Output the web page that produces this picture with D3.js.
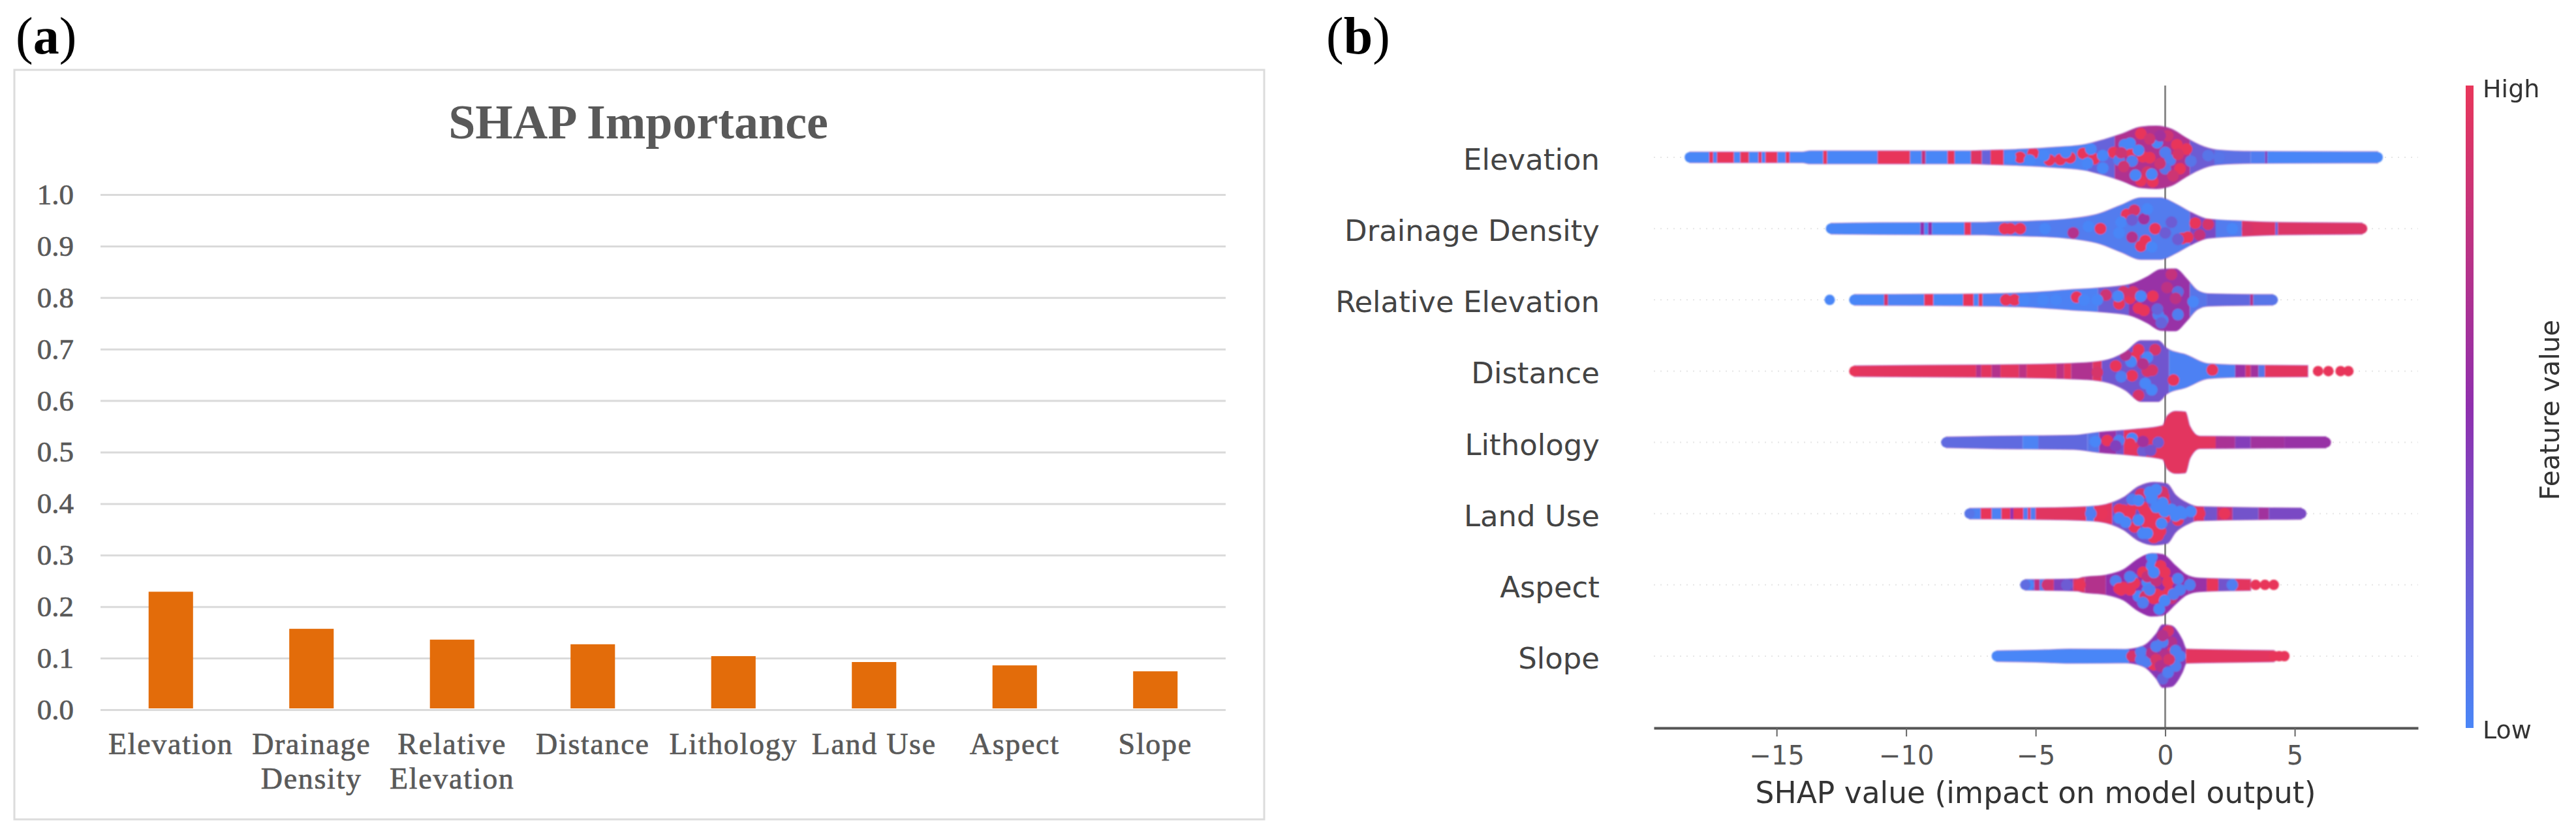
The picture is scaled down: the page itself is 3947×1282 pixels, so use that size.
<!DOCTYPE html>
<html>
<head>
<meta charset="utf-8">
<title>SHAP importance and summary</title>
<script src="https://cdn.jsdelivr.net/npm/d3@7/dist/d3.min.js"></script>
<style>
  html, body { margin: 0; padding: 0; background: #fff; }
  svg { display: block; }
  .serif { font-family: "Liberation Serif", serif; }
  .sans { font-family: "DejaVu Sans", sans-serif; }
</style>
</head>
<body>
<svg id="canvas" width="3947" height="1282"></svg>
<script>
// ---- data, panel (a)
var features = ['Elevation','Drainage Density','Relative Elevation','Distance','Lithology','Land Use','Aspect','Slope'];
var importance = [0.229,0.157,0.136,0.127,0.104,0.0925,0.086,0.0745];
var importanceTicks = [0,0.1,0.2,0.3,0.4,0.5,0.6,0.7,0.8,0.9,1.0];
var wrappedLabels = [['Elevation'],['Drainage','Density'],['Relative','Elevation'],['Distance'],['Lithology'],['Land Use'],['Aspect'],['Slope']];

// ---- data, panel (b)
var shapTicks = [-15,-10,-5,0,5];

// swarm outline per feature: [shap value, half thickness 0..1]
var elevationBand = [[-18.35,.14],[-14,.14],[-13.7,.18],[-7.5,.18],[-6.74,.2],[-5.65,.23],[-4.2,.3],[-3.1,.39],[-2.37,.55],[-1.7,.73],[-.94,.97],[-.35,1],[.24,.9],[.82,.6],[1.33,.37],[2,.21],[3.34,.16],[8.2,.15]];
var drainageBand = [[-12.9,.14],[-11,.16],[-7,.17],[-6.74,.18],[-5.3,.21],[-3.8,.28],[-2.54,.46],[-1.7,.74],[-.94,.98],[-.18,.98],[.4,.78],[1,.5],[1.66,.28],[3.1,.21],[4.5,.17],[7.6,.15]];
var relativeBand = [[-12,.14],[-9,.15],[-6.74,.17],[-5.14,.21],[-3.63,.3],[-2.37,.37],[-1.36,.48],[-.69,.73],[-.18,.97],[.4,.99],[.82,.67],[1.24,.28],[1.66,.17],[4.15,.14]];
var distanceBand = [[-12,.14],[-9,.16],[-6.74,.17],[-3.7,.22],[-2.8,.26],[-2,.4],[-1.53,.6],[-.94,.97],[-.27,.97],[.07,.71],[.82,.5],[1.66,.21],[3.34,.16],[5.5,.15]];
var lithologyBand = [[-8.45,.14],[-6.74,.17],[-3.55,.2],[-2.54,.3],[-1.28,.39],[-.1,.52],[.07,.83],[.4,.99],[.78,.97],[.95,.5],[1.33,.17],[6.2,.15]];
var landUseBand = [[-7.55,.14],[-4.5,.16],[-2.96,.2],[-2.29,.27],[-1.61,.5],[-1.03,.86],[-.44,1],[.07,.95],[.4,.58],[.82,.33],[1.24,.2],[5.25,.15]];
var aspectBand = [[-5.4,.14],[-3.38,.17],[-3.2,.21],[-2.29,.29],[-1.61,.47],[-1.03,.83],[-.52,1],[-.1,.97],[.4,.6],[.82,.3],[1.33,.19],[3.3,.15]];
var slopeBand = [[-6.5,.14],[-4.64,.17],[-3.71,.2],[-1.53,.19],[-.86,.3],[-.35,.7],[-.1,1],[.24,.97],[.66,.5],[.82,.2],[2,.18],[4.2,.15]];

// colour runs along each swarm: [from shap, to shap, feature value 0..1]
var elevationRuns = [[-18.6,-17.6,0],[-17.6,-17.45,1],[-17.45,-17.3,0],[-17.3,-16.65,1],[-16.65,-16.4,0],[-16.4,-16.07,1],[-16.07,-15.7,0],[-15.7,-15.58,1],[-15.58,-15.43,0],[-15.43,-14.97,1],[-14.97,-14.65,0],[-14.65,-14.5,1],[-14.5,-13.2,0],[-13.2,-13.05,1],[-13.05,-11.1,0],[-11.1,-9.85,1],[-9.85,-9.4,0],[-9.4,-9.25,.8],[-9.25,-8.4,0],[-8.4,-8.13,1],[-8.13,-7.5,0],[-7.5,-7.08,.95],[-7.08,-6.74,.2],[-6.74,-6.24,1],[-6.24,-3,.03],[-3,-1.95,.2],[-1.95,.95,.68],[.95,1.9,.25],[1.9,3.3,.12],[3.3,3.85,.05],[3.85,3.95,.4],[3.95,8.7,0]];
var drainageRuns = [[-13.2,-9.45,0],[-9.45,-9.3,.5],[-9.3,-9.15,0],[-9.15,-9,.5],[-9,-7.75,0],[-7.75,-7.5,1],[-7.5,.95,.06],[.95,1.95,.35],[1.95,2.96,.06],[2.96,4.25,.93],[4.25,4.35,.2],[4.35,7.9,.93]];
var relativeRuns = [[-12.2,-10.85,0],[-10.85,-10.7,.9],[-10.7,-9.3,.02],[-9.3,-8.95,1],[-8.95,-7.8,0],[-7.8,-7.4,1],[-7.4,-7.2,0],[-7.2,-7.05,1],[-7.05,-2.6,.03],[-2.6,-1.4,.25],[-1.4,.95,.55],[.95,1.6,.1],[1.6,3.28,.17],[3.28,3.4,.7],[3.4,4.4,.1]];
var distanceRuns = [[-12.2,-7.3,.97],[-7.3,-7.1,.7],[-7.1,-6.7,.97],[-6.7,-6.36,.7],[-6.36,-5.65,.97],[-5.65,-5.35,.75],[-5.35,-4.2,.97],[-4.2,-3.9,.75],[-3.9,-3.63,.97],[-3.63,-2.8,.68],[-2.8,-2.45,.95],[-2.45,.15,.28],[.15,2.7,.03],[2.7,3.1,.55],[3.1,3.3,.9],[3.3,3.6,.6],[3.6,3.85,.1],[3.85,5.7,.97]];
var lithologyRuns = [[-8.8,-5.5,.16],[-5.5,-4.9,.02],[-4.9,-3,.17],[-3,-2.55,.1],[-2.55,-1.9,.55],[-1.9,-1.6,.3],[-1.6,1.95,.97],[1.95,2.7,.65],[2.7,3.3,.42],[3.3,4.6,.6],[4.6,6.4,.55]];
var landUseRuns = [[-7.8,-7.12,.03],[-7.12,-6.7,1],[-6.7,-6.32,.03],[-6.32,-5.98,1],[-5.98,-5.86,.5],[-5.86,-5.48,1],[-5.48,-5.3,.05],[-5.3,-5.2,1],[-5.2,-5,.05],[-5,-3.05,.96],[-3.05,-2.75,.05],[-2.75,-2.05,.97],[-2.05,1.1,.3],[1.1,1.5,.9],[1.5,2,.3],[2,2.6,.8],[2.6,3.6,.3],[3.6,4,.6],[4,5.5,.35]];
var aspectRuns = [[-5.7,-5.05,.15],[-5.05,-4.85,.75],[-4.85,-4.65,.05],[-4.65,-4.3,.9],[-4.3,-3.55,.4],[-3.55,-3.1,.9],[-3.1,-2.3,.7],[-2.3,.9,.52],[.9,1.6,.55],[1.6,2.05,.95],[2.05,2.7,.3],[2.7,3.3,.97]];
var slopeRuns = [[-6.8,-1.4,0],[-1.4,.8,.45],[.8,4.3,.97]];

// individual dots that can be told apart: [shap, offset -1..1, feature value]
var elevationDots = [[-6.49,0,1],[-5.6,0,1],[-5.1,-.13,1],[-4.47,.09,1],[-4.05,.07,1],[-3.67,.01,1],[-3.17,-.13,1],[-2.75,.05,1],[-1.99,-.16,1],[-1.32,-.18,1],[-.86,-.02,1],[-.6,.01,1],[-.94,-.77,1],[.45,-.41,1],[.82,-.27,1],[.57,.37,1],[-.48,.79,1],[-.94,.76,1],[-.69,.48,.9],
  [-5.98,0,0],[-5.23,.09,0],[-4.68,-.06,0],[-3.84,-.16,0],[-2.87,-.27,0],[-2.41,-.06,0],[-3,.19,0],[-2.41,.35,0],[-1.57,-.41,0],[-1.36,-.46,0],[-1.03,-.23,0],[-1.78,.09,.05],[-1.28,.12,.05],[-1.15,.58,0],[-.31,-.48,0],[0,-.16,.05],[.19,.09,.05],[0,.37,.1],[-.52,.55,0],[.99,.12,.1],[1.66,-.06,.1],[2.08,0,.1],
  [-.2,.2,.85],[.1,-.7,.85],[-1.6,.3,.85],[.3,.6,.85],[.5,-.1,.9],[-.2,-.7,.6],[-.6,-.6,.85],[-1.7,-.15,.85]];
var drainageDots = [[-6.2,0,1],[-5.98,0,1],[-5.6,0,1],[-3.55,.14,.7],[-2.5,0,1],[-1.49,-.46,1],[-1.19,-.6,.9],[-.39,0,1],[-.94,.57,1],[-.77,.39,1],[1.16,-.18,1],[.87,.28,1],[.66,.32,1],[1.66,-.14,.9],[3.18,0,.9],[-1.28,.28,.7],[-.82,-.32,.6],[1.33,.21,.8],
  [-1.7,-.21,0],[-.52,.6,0],[-1.78,.14,0],[-.69,-.64,0],[2.59,0,0],[-2.96,-.07,0],[-4.64,0,0],[0,.14,.25],[.24,-.21,.25],[.49,.35,.25],[-1.28,-.28,.25]];
var relativeDots = [[-6.15,0,1],[-5.82,0,1],[-3.42,-.09,1],[-2.29,-.16,.85],[-1.78,.13,1],[-1.36,-.05,1],[-1.03,.27,1],[-.82,.34,1],[-.48,-.12,1],[.24,-.83,.8],[-1.24,-.26,.9],[-1.61,-.26,.9],
  [-5.44,0,0],[-4.72,0,0],[-4.22,0,0],[-3.13,0,0],[-2.62,0,0],[-1.82,-.12,0],[-.94,-.12,0],[-.27,.48,.05],[-.1,.66,.05],[.49,.48,.05],[1.08,.06,0],[.49,-.26,.15],[.07,-.4,.75],[.4,-.05,.75],[-.3,.3,.2],[-.15,.75,.2]];
var distanceDots = [[1.82,-.04,1],[-1.03,-.7,1],[-1.19,-.45,1],[-1.91,-.17,1],[-1.28,.15,1],[-.69,0,.9],[-.5,-.03,.9],[.32,.29,1],[-1.03,.79,.9],[-.39,-.7,.9],[-2.62,.04,.9],
  [-1.32,-.31,0],[-.69,-.45,0],[-.77,.4,0],[-1.7,.18,.05],[-.52,.61,0],[-1.53,-.52,.7],[-.86,-.24,.7]];
var lithologyDots = [[-2.7,-.03,0],[-1.28,-.13,0],[-1.78,-.06,.05],[-.86,.29,.25],[-.27,0,.25],[-.56,.26,.3],[-2.24,-.06,1],[-1.36,.04,1],[-.86,-.03,.6],[-1.91,.11,.4]];
var landUseDots = [[-2.45,0,1],[-1.61,-.11,1],[-1.36,-.07,1],[-1.24,-.28,1],[-.77,-.07,1],[-.73,.28,1],[-.06,-.57,1],[-.35,.14,1],[-.18,.57,1],[-.44,.78,1],[1.33,0,1],[2.29,0,1],[.49,.21,1],[-.02,-.35,.9],[-1.19,.43,1],
  [-1.78,-.14,1],[-1.45,.07,1],[-.69,0,1],[-.86,-.21,1],[-.52,.43,1],[-.27,.71,1],[-.1,-.7,.9],[-.02,.14,1],[-.94,-.64,.9],
  [-1.78,.14,0],[-1.28,-.46,.05],[-1.53,.28,0],[-.86,.64,0],[-1.03,.21,0],[-.52,-.5,0],[-.35,-.78,0],[-.35,-.21,0],[-.02,-.07,0],[.66,0,0],[.99,-.07,0],[-.14,.32,0],[-2.87,0,.05],
  [-.69,.64,0],[-.1,-.35,0],[.24,-.14,0],[.57,-.07,0],[.4,.07,0],[-1.03,-.43,0],[-.6,-.7,0]];
var aspectDots = [[-5.29,0,0],[-4.55,0,.85],[-3.8,0,.25],[-3.29,0,1],[-1.91,-.13,.05],[-1.78,.12,1],[-1.61,.09,1],[-1.28,-.2,0],[-1.03,.37,0],[-.86,-.41,1],[-.52,-.62,0],[-.69,-.09,0],[-.69,.19,0],[-.23,.79,0],[-.18,-.62,1],[.11,-.09,1],[.15,.23,1],[.49,-.2,.05],[-.35,.3,1],[.95,0,.05],[1.83,0,1],[2.59,0,.05],[-1.36,.16,1],[-.35,-.13,.8],
  [-1.7,.16,1],[-1.19,-.06,1],[-.77,.37,.9],[-.44,.44,1],[-.1,.37,1],[-.02,-.41,1],[-.69,-.27,.8],[.24,.44,.8],
  [-.44,-.41,0],[-.52,-.91,0],[-.86,.58,.05],[-.02,.51,0],[.32,.3,.05],[.57,.16,.05],[-1.36,-.27,.05],[-.6,.16,.05]];
var slopeDots = [[-1.28,0,.9],[-.94,-.14,.05],[-.44,.28,1],[.28,-.14,1],[.11,-.82,.9],[.24,-.46,.7],[.57,0,.05],[.4,.32,.05],[-.1,.74,.2],[-.73,.18,.05],[-.1,-.46,.05],[-.52,-.1,.7],[-.02,-.04,.7],
  [-.94,.11,.05],[-.35,-.32,.05],[-.35,.11,.9],[-.18,.32,.7],[.4,-.18,.05],[.15,.11,.9],[-.1,-.67,.7],[.11,.53,.05]];

// loose dots at the swarm ends, not inside the outline: [shap, feature value]
var elevationEnds = [[-18.35,0],[-18.05,0],[-17.8,0],[7.9,0],[8.2,0]];
var drainageEnds = [[-12.9,0],[-12.6,0],[-12.3,0],[-12,0],[7.6,.93]];
var relativeEnds = [[-12.95,0],[-12,0],[-11.7,0],[4.15,.1]];
var distanceEnds = [[-12,1],[5.9,1],[6.3,1],[6.77,1],[7.07,1]];
var lithologyEnds = [[-8.45,.16],[6.2,.55]];
var landUseEnds = [[-7.55,.1],[5.25,.35]];
var aspectEnds = [[-5.4,.15],[3.49,1],[3.85,1],[4.19,1]];
var slopeEnds = [[-6.5,0],[4.2,1],[4.4,1],[4.6,1]];

var swarmBands = [elevationBand,drainageBand,relativeBand,distanceBand,lithologyBand,landUseBand,aspectBand,slopeBand];
var swarmRuns = [elevationRuns,drainageRuns,relativeRuns,distanceRuns,lithologyRuns,landUseRuns,aspectRuns,slopeRuns];
var swarmDots = [elevationDots,drainageDots,relativeDots,distanceDots,lithologyDots,landUseDots,aspectDots,slopeDots];
var swarmEnds = [elevationEnds,drainageEnds,relativeEnds,distanceEnds,lithologyEnds,landUseEnds,aspectEnds,slopeEnds];

var svg = d3.select('#canvas');

// soft edges, the source is a resampled raster
var defs = svg.append('defs');
defs.append('filter').attr('id','soft')
    .append('feGaussianBlur').attr('stdDeviation',0.9);

//------------- panel (a)
svg.append('text').attr('class','serif')
    .attr('x',24).attr('y',82).attr('font-size',80).attr('fill','#000')
    .html('(<tspan font-weight="bold">a</tspan>)');

svg.append('rect')
    .attr('x',22).attr('y',107)
    .attr('width',1915).attr('height',1148)
    .attr('fill','#fff').attr('stroke','#dcdcdc').attr('stroke-width',3);

svg.append('text').attr('class','serif')
    .attr('x',978).attr('y',212)
    .attr('text-anchor','middle')
    .attr('font-size',74).attr('font-weight','bold').attr('fill','#595959')
    .text('SHAP Importance');

var scaleBand = d3.scaleBand().domain(features).range([154,1878]).paddingInner(0.684).paddingOuter(0.342);
var scaleImp = d3.scaleLinear().domain([0,1]).range([1087,298]);

var axisImp = d3.axisLeft(scaleImp)
    .tickValues(importanceTicks)
    .tickFormat(d3.format('.1f'))
    .tickSize(-(1878-154))
    .tickPadding(41);

var axisImpNode = svg.append('g')
    .attr('transform','translate(154,0)')
    .call(axisImp);
axisImpNode.select('.domain').remove();
axisImpNode.selectAll('line').attr('stroke','#dadada').attr('stroke-width',3);
axisImpNode.selectAll('text')
    .attr('class','serif')
    .attr('font-size',45)
    .attr('fill','#595959')
    .attr('stroke','#595959').attr('stroke-width',0.7);

svg.append('g').selectAll('rect')
    .data(importance)
    .enter().append('rect')
    .attr('x',function(d,i){ return scaleBand(features[i]); })
    .attr('y',function(d){ return scaleImp(d); })
    .attr('width',scaleBand.bandwidth())
    .attr('height',function(d){ return scaleImp(0) - 2 - scaleImp(d); })
    .attr('fill','#e36c0a');

var axisCat = d3.axisBottom(scaleBand).tickSize(0);
var axisCatNode = svg.append('g')
    .attr('transform','translate(0,1087)')
    .call(axisCat);
axisCatNode.select('.domain').remove();
axisCatNode.selectAll('text').each(function(d,i){
    var t = d3.select(this)
        .text(null)
        .attr('class','serif')
        .attr('font-size',46)
        .attr('letter-spacing',1.7)
        .attr('fill','#595959')
        .attr('stroke','#595959').attr('stroke-width',0.7)
        .attr('y',68).attr('dy',0);
    wrappedLabels[i].forEach(function(line,k){
        t.append('tspan').attr('x',0).attr('dy',k ? 53 : 0).text(line);
    });
});

//------------- panel (b)
svg.append('text').attr('class','serif')
    .attr('x',2032).attr('y',82).attr('font-size',80).attr('fill','#000')
    .html('(<tspan font-weight="bold">b</tspan>)');

var scaleShap = d3.scaleLinear().domain([-19.74,9.76]).range([2534,3705]);
var scaleRow = d3.scalePoint().domain(features).range([241,1005]);
var scaleThick = d3.scaleLinear().domain([0,1]).range([1.5,48]);
var scaleOff = d3.scaleLinear().domain([-1,1]).range([-47,47]);
var colorValue = d3.scaleLinear().domain([0,0.5,1]).range(['#4a86f7','#8f2fae','#e8365a']);

// faint dotted guide behind each row
svg.append('g').selectAll('line')
    .data(features)
    .enter().append('line')
    .attr('x1',scaleShap.range()[0]).attr('x2',scaleShap.range()[1])
    .attr('y1',function(d){ return scaleRow(d); })
    .attr('y2',function(d){ return scaleRow(d); })
    .attr('stroke','#e6e6e6').attr('stroke-width',2).attr('stroke-dasharray','2 8');

// zero line
svg.append('line')
    .attr('x1',scaleShap(0)).attr('x2',scaleShap(0))
    .attr('y1',131).attr('y2',1115)
    .attr('stroke','#8a8a8a').attr('stroke-width',3);

var rows = svg.append('g').attr('filter','url(#soft)');

features.forEach(function(name,i){
    var mid = scaleRow(name);
    var area = d3.area()
        .x(function(d){ return scaleShap(d[0]); })
        .y0(function(d){ return mid - scaleThick(d[1]); })
        .y1(function(d){ return mid + scaleThick(d[1]); })
        .curve(d3.curveMonotoneX);

    defs.append('clipPath').attr('id','clip' + i)
        .append('path').attr('d',area(swarmBands[i]));

    var row = rows.append('g');

    row.append('path')
        .attr('d',area(swarmBands[i]))
        .attr('fill','none')
        .attr('stroke',colorValue(0.5)).attr('stroke-opacity',0.55).attr('stroke-width',2);

    var inside = row.append('g').attr('clip-path','url(#clip' + i + ')');

    inside.selectAll('rect')
        .data(swarmRuns[i])
        .enter().append('rect')
        .attr('x',function(d){ return scaleShap(d[0]); })
        .attr('width',function(d){ return scaleShap(d[1]) - scaleShap(d[0]); })
        .attr('y',mid - scaleThick(1) - 2)
        .attr('height',scaleThick(1)*2 + 4)
        .attr('fill',function(d){ return colorValue(d[2]); });

    inside.selectAll('circle')
        .data(swarmDots[i])
        .enter().append('circle')
        .attr('cx',function(d){ return scaleShap(d[0]); })
        .attr('cy',function(d){ return mid + scaleOff(d[1]); })
        .attr('r',9)
        .attr('fill',function(d){ return colorValue(d[2]); });

    row.selectAll('circle.end')
        .data(swarmEnds[i])
        .enter().append('circle')
        .attr('class','end')
        .attr('cx',function(d){ return scaleShap(d[0]); })
        .attr('cy',mid)
        .attr('r',8)
        .attr('fill',function(d){ return colorValue(d[1]); });
});

// feature names
svg.append('g').selectAll('text')
    .data(features)
    .enter().append('text')
    .attr('class','sans')
    .attr('x',2451)
    .attr('y',function(d){ return scaleRow(d) + 19; })
    .attr('text-anchor','end')
    .attr('font-size',45)
    .attr('fill','#444')
    .text(function(d){ return d; });

// shap axis
var axisShap = d3.axisBottom(scaleShap)
    .tickValues(shapTicks)
    .tickFormat(d3.format('d'))
    .tickSizeInner(13)
    .tickSizeOuter(0);
var axisShapNode = svg.append('g')
    .attr('transform','translate(0,1115)')
    .call(axisShap);
axisShapNode.select('.domain').attr('stroke','#555').attr('stroke-width',4);
axisShapNode.selectAll('line').attr('stroke','#666').attr('stroke-width',2);
axisShapNode.selectAll('text')
    .attr('class','sans')
    .attr('font-size',40)
    .attr('fill','#555')
    .attr('y',56).attr('dy',0);

svg.append('text').attr('class','sans')
    .attr('x',3119).attr('y',1230)
    .attr('text-anchor','middle')
    .attr('font-size',45.5).attr('fill','#333')
    .text('SHAP value (impact on model output)');

// colour bar
var grad = defs.append('linearGradient').attr('id','bar')
    .attr('x1',0).attr('y1',1).attr('x2',0).attr('y2',0);
colorValue.domain().forEach(function(v){
    grad.append('stop').attr('offset',v).attr('stop-color',colorValue(v));
});
var scaleBar = d3.scaleLinear().domain([0,1]).range([1115,131]);
svg.append('rect')
    .attr('x',3778).attr('width',12)
    .attr('y',scaleBar(1)).attr('height',scaleBar(0) - scaleBar(1))
    .attr('fill','url(#bar)');

svg.append('text').attr('class','sans')
    .attr('x',3804).attr('y',149)
    .attr('font-size',38).attr('fill','#333').text('High');
svg.append('text').attr('class','sans')
    .attr('x',3804).attr('y',1131)
    .attr('font-size',38).attr('fill','#333').text('Low');
svg.append('text').attr('class','sans')
    .attr('transform','translate(3921,628) rotate(-90)')
    .attr('text-anchor','middle')
    .attr('font-size',40.5).attr('fill','#333')
    .text('Feature value');
</script>
</body>
</html>
